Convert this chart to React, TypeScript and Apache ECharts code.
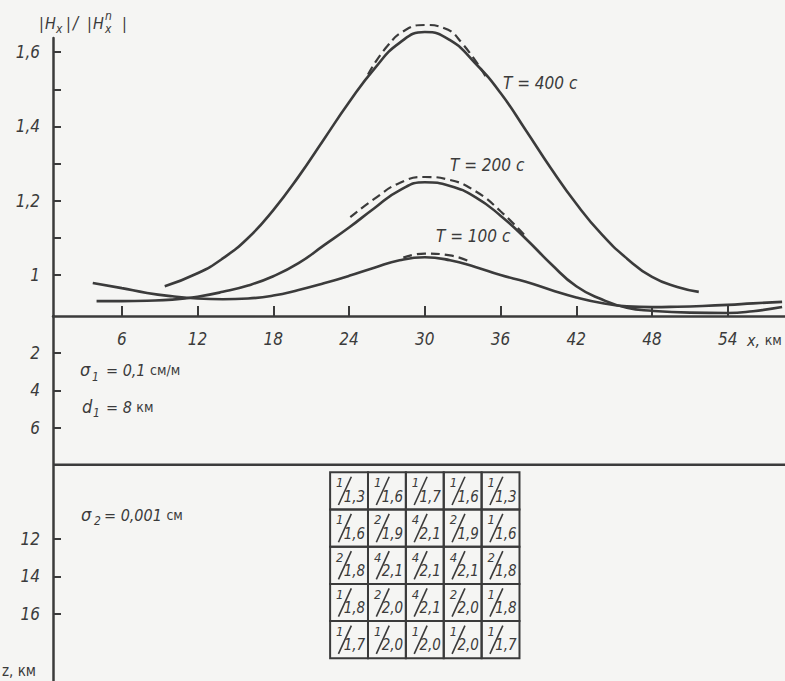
import React, { useEffect, useRef } from "react";
import * as echarts from "echarts";

// ---- axes ----
const xTicks = [6, 12, 18, 24, 30, 36, 42, 48, 54];
const ratioTicks = [1.0, 1.1, 1.2, 1.3, 1.4, 1.5, 1.6];
const ratioLabels = [1.0, 1.2, 1.4, 1.6];
const depthTicks = [2, 4, 6, 12, 14, 16];
const xMin = 0.55;
const xMax = 58.53;
const ratioMin = 0.89;
const ratioMax = 1.638;
const depthMax = 19.62;
const layerDepth = 8;

// ---- curves [x km, |Hx|/|Hx^n|] ----
const t400Solid = [
  [9.4, 0.97], [12, 1.005], [14, 1.045], [16, 1.1], [18, 1.175], [20, 1.265], [22, 1.365],
  [24, 1.465], [26, 1.555], [28, 1.625], [30, 1.654], [32, 1.632], [34, 1.57], [36, 1.49],
  [38, 1.39], [40, 1.287], [42, 1.192], [44, 1.11], [46, 1.045], [48, 0.995], [50, 0.968], [51.7, 0.955],
];
const t400Dashed = [
  [25.5, 1.54], [27, 1.615], [28.5, 1.66], [30, 1.673], [31.5, 1.665], [33, 1.622], [34.9, 1.53],
];
const t200Solid = [
  [4, 0.93], [6, 0.93], [8, 0.931], [10, 0.934], [12, 0.942], [14, 0.955], [16, 0.972], [18, 0.997],
  [20, 1.032], [22, 1.08], [24, 1.128], [26, 1.18], [28, 1.228], [30, 1.25], [32, 1.24], [34, 1.21],
  [36, 1.16], [38, 1.098], [40, 1.03], [42, 0.97], [44, 0.935], [46, 0.912], [48, 0.904], [51, 0.899],
  [54, 0.898], [56, 0.903], [58.3, 0.914],
];
const t200Dashed = [
  [24.1, 1.156], [26, 1.205], [28, 1.248], [30, 1.264], [32, 1.256], [34, 1.226], [36, 1.172], [38.1, 1.1],
];
const t100Solid = [
  [3.7, 0.979], [6, 0.965], [8, 0.952], [10, 0.943], [12, 0.937], [14, 0.935], [16, 0.937], [18, 0.945],
  [20, 0.96], [22, 0.978], [24, 0.998], [26, 1.02], [28, 1.04], [30, 1.048], [32, 1.04], [34, 1.022],
  [36, 1.0], [38, 0.982], [40, 0.96], [42, 0.94], [44, 0.925], [46, 0.916], [48, 0.914], [50, 0.915],
  [52, 0.917], [54, 0.92], [56, 0.924], [58.3, 0.928],
];
const t100Dashed = [[28.3, 1.047], [30, 1.058], [32, 1.053], [33.6, 1.036]];

// ---- conductivity cells ----
const cellXEdges = [22.5, 25.5, 28.5, 31.5, 34.5, 37.5];
const cellDepthEdges = [8.4, 10.4, 12.4, 14.4, 16.4, 18.4];
const numerators = [
  ["1", "1", "1", "1", "1"],
  ["1", "2", "4", "2", "1"],
  ["2", "4", "4", "4", "2"],
  ["1", "2", "4", "2", "1"],
  ["1", "1", "1", "1", "1"],
];
const denominators = [
  ["1,3", "1,6", "1,7", "1,6", "1,3"],
  ["1,6", "1,9", "2,1", "1,9", "1,6"],
  ["1,8", "2,1", "2,1", "2,1", "1,8"],
  ["1,8", "2,0", "2,1", "2,0", "1,8"],
  ["1,7", "2,0", "2,0", "2,0", "1,7"],
];

const INK = "#3b3b3b";
const FONT = "'Liberation Sans Narrow', 'DejaVu Sans Condensed', 'Roboto', sans-serif";

function txt(text: string, x: number, y: number, size: number, extra: any = {}) {
  return {
    type: "text",
    x,
    y,
    style: {
      text,
      fill: INK,
      font: `italic ${size}px ${FONT}`,
      verticalAlign: "middle",
      ...extra,
    },
  };
}

function mixed(value: string, unit: string, x: number, y: number) {
  return {
    type: "text",
    x,
    y,
    style: {
      text: `{a|${value}}{b|${unit}}`,
      verticalAlign: "middle",
      rich: {
        a: { fill: INK, fontSize: 16, fontStyle: "italic", fontFamily: FONT },
        b: { fill: INK, fontSize: 14, fontFamily: FONT },
      },
    },
  };
}

export default function App() {
  const ref = useRef<HTMLDivElement>(null);
  useEffect(() => {
    if (!ref.current) return;
    const chart = echarts.init(ref.current, null, { renderer: "svg" });

    const cellData: any[] = [];
    for (let r = 0; r < 5; r++) {
      for (let c = 0; c < 5; c++) {
        cellData.push([
          (cellXEdges[c] + cellXEdges[c + 1]) / 2,
          (cellDepthEdges[r] + cellDepthEdges[r + 1]) / 2,
          c,
          r,
        ]);
      }
    }

    const solid = (data: number[][]) => ({
      type: "line",
      xAxisIndex: 0,
      yAxisIndex: 0,
      data,
      smooth: 0.5,
      symbol: "none",
      clip: false,
      lineStyle: { color: INK, width: 2.6 },
      silent: true,
    });
    const dashed = (data: number[][]) => ({
      type: "line",
      xAxisIndex: 0,
      yAxisIndex: 0,
      data,
      smooth: 0.5,
      symbol: "none",
      clip: false,
      lineStyle: { color: INK, width: 2.2, type: [9, 5] },
      silent: true,
    });

    const option: any = {
      animation: false,
      backgroundColor: "#f5f5f3",
      grid: [
        { left: 53, right: 0, top: 38, height: 278 },
        { left: 53, right: 0, top: 316, height: 365 },
      ],
      xAxis: [
        {
          type: "value",
          gridIndex: 0,
          min: xMin,
          max: xMax,
          splitLine: { show: false },
          axisLine: { show: true, onZero: false, lineStyle: { color: INK, width: 2.5 } },
          axisTick: {
            show: true,
            inside: true,
            length: 10,
            customValues: xTicks,
            lineStyle: { color: INK, width: 2 },
          },
          axisLabel: {
            customValues: xTicks,
            color: INK,
            fontSize: 17,
            fontStyle: "italic",
            fontFamily: FONT,
            margin: 14,
          },
        },
        {
          type: "value",
          gridIndex: 1,
          min: xMin,
          max: xMax,
          show: false,
          splitLine: { show: false },
        },
      ],
      yAxis: [
        {
          type: "value",
          gridIndex: 0,
          min: ratioMin,
          max: ratioMax,
          splitLine: { show: false },
          axisLine: { show: true, onZero: false, lineStyle: { color: INK, width: 2.5 } },
          axisTick: {
            show: true,
            inside: true,
            length: 8,
            customValues: ratioTicks,
            lineStyle: { color: INK, width: 2 },
          },
          axisLabel: {
            customValues: ratioLabels,
            color: INK,
            fontSize: 17,
            fontStyle: "italic",
            fontFamily: FONT,
            margin: 13,
            formatter: (v: number) => (Math.abs(v - 1) < 1e-6 ? "1" : v.toFixed(1).replace(".", ",")),
          },
        },
        {
          type: "value",
          gridIndex: 1,
          inverse: true,
          min: 0,
          max: depthMax,
          splitLine: { show: false },
          axisLine: { show: true, onZero: false, lineStyle: { color: INK, width: 2.5 } },
          axisTick: {
            show: true,
            inside: true,
            length: 8,
            customValues: depthTicks,
            lineStyle: { color: INK, width: 2 },
          },
          axisLabel: {
            customValues: depthTicks,
            color: INK,
            fontSize: 17,
            fontStyle: "italic",
            fontFamily: FONT,
            margin: 13,
          },
        },
      ],
      series: [
        solid(t400Solid),
        dashed(t400Dashed),
        solid(t200Solid),
        dashed(t200Dashed),
        solid(t100Solid),
        dashed(t100Dashed),
        {
          type: "line",
          xAxisIndex: 1,
          yAxisIndex: 1,
          data: [
            [xMin, layerDepth],
            [xMax, layerDepth],
          ],
          symbol: "none",
          lineStyle: { color: INK, width: 2.5 },
          silent: true,
        },
        {
          type: "custom",
          xAxisIndex: 1,
          yAxisIndex: 1,
          data: cellData,
          silent: true,
          renderItem: (params: any, api: any) => {
            const c = api.value(2);
            const r = api.value(3);
            const p0 = api.coord([cellXEdges[c], cellDepthEdges[r]]);
            const p1 = api.coord([cellXEdges[c + 1], cellDepthEdges[r + 1]]);
            const x = p0[0];
            const y = p0[1];
            const w = p1[0] - p0[0];
            const h = p1[1] - p0[1];
            return {
              type: "group",
              children: [
                {
                  type: "rect",
                  shape: { x, y, width: w, height: h },
                  style: { fill: "none", stroke: INK, lineWidth: 2 },
                },
                {
                  type: "text",
                  x: x + 6,
                  y: y + 4,
                  style: {
                    text: numerators[r][c],
                    fill: INK,
                    font: `italic 13px ${FONT}`,
                    verticalAlign: "top",
                    align: "left",
                  },
                },
                {
                  type: "line",
                  shape: { x1: x + w * 0.22, y1: y + h * 0.88, x2: x + w * 0.56, y2: y + h * 0.12 },
                  style: { stroke: INK, lineWidth: 1.6 },
                },
                {
                  type: "text",
                  x: x + w * 0.36,
                  y: y + h * 0.45,
                  style: {
                    text: denominators[r][c],
                    fill: INK,
                    font: `italic 15px ${FONT}`,
                    verticalAlign: "top",
                    align: "left",
                  },
                },
              ],
            };
          },
        },
      ],
      graphic: [
        // y-axis title |Hx| / |Hx^n|
        txt("|", 39, 23, 16),
        txt("H", 45, 23, 16),
        txt("x", 56, 29, 12),
        txt("|", 66, 23, 16),
        txt("/", 73, 23, 17),
        txt("|", 87, 23, 16),
        txt("H", 93, 23, 16),
        txt("x", 105, 29, 12),
        txt("n", 105, 16, 12),
        txt("|", 122, 23, 16),
        // curve labels
        txt("T = 400 c", 503, 83, 17),
        txt("T = 200 c", 450, 165, 17),
        txt("T = 100 c", 436, 236, 17),
        // x axis name
        mixed("x, ", "км", 747, 340),
        // layer annotations
        txt("σ", 80, 369, 18),
        txt("1", 92, 377, 12),
        mixed("= 0,1 ", "см/м", 106, 370),
        txt("d", 82, 406, 18),
        txt("1", 93, 413, 12),
        mixed("= 8 ", "км", 106, 407),
        txt("σ", 81, 514, 18),
        txt("2", 94, 521, 12),
        mixed("= 0,001 ", "см", 104, 515),
        // depth axis name
        { type: "text", x: 2, y: 671, style: { text: "z, км", fill: INK, font: `15px ${FONT}`, verticalAlign: "middle" } },
      ],
    };

    chart.setOption(option);
    return () => chart.dispose();
  }, []);

  return (
    <div
      ref={ref}
      style={{ position: "absolute", left: 0, top: 0, width: 785, height: 681 }}
    />
  );
}
